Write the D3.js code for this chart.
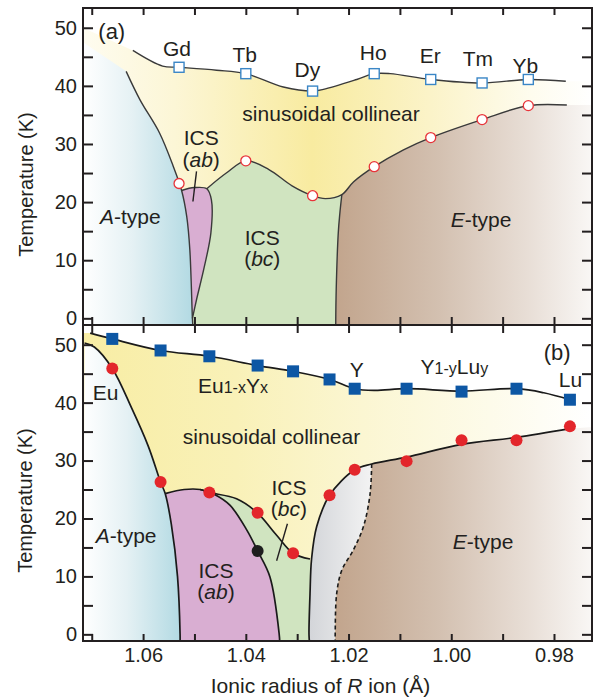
<!DOCTYPE html>
<html>
<head>
<meta charset="utf-8">
<script src="https://cdn.jsdelivr.net/npm/d3@7"></script>
<style>
  body { margin: 0; background: #fff; }
  text { font-family: "Liberation Sans", Arial, Helvetica, sans-serif; fill: #231f20; }
</style>
</head>
<body>
<div id="chart"></div>
<script>
// ---- (a) pure RMnO3, R = Gd ... Yb ----
var ionsA = ["Gd", "Tb", "Dy", "Ho", "Er", "Tm", "Yb"];
var radiusA = [1.053, 1.040, 1.027, 1.015, 1.004, 0.994, 0.985];
var tNeelA = [43.2, 42.1, 39.1, 42.1, 41.1, 40.5, 41.1];
var tLockA = [23.2, 27.1, 21.1, 26.1, 31.1, 34.2, 36.6];

// ---- (b) Eu1-xYx / Y1-yLuy ----
var radiusB = [1.0660, 1.0566, 1.0471, 1.0377, 1.0308, 1.0237, 1.0188, 1.0087, 0.9980, 0.9873, 0.9769];
var tNeelB = [51.0, 49.0, 48.0, 46.4, 45.4, 44.0, 42.4, 42.4, 41.9, 42.4, 40.5];
var tLockB = [45.9, 26.3, 24.5, 21.0, 14.0, 24.0, 28.4, 29.9, 33.5, 33.5, 35.9];
var extraB = [[1.0377, 14.4]];

// ---- phase boundaries, [radius, T] ----
var tnLineA = [[1.0620,46.1],[1.0562,43.4],[1.053,43.2],[1.0457,42.7],[1.040,42.1],[1.0327,39.8],[1.027,39.1],[1.0249,39.4],[1.0184,41.1],[1.015,42.1],[1.0119,42.1],[1.004,41.1],[0.994,40.5],[0.985,41.1],[0.9777,40.8]];
var aLineA = [[1.0633,42.5],[1.0606,37.6],[1.0568,31.9],[1.0541,26.1],[1.0525,22.0],[1.0515,17.5],[1.0509,11.8],[1.0504,0],[1.0503,-1.5]];
var abLineA = [[1.0525,22.0],[1.0500,22.5],[1.0476,22.3],[1.0467,20.4],[1.0468,14.7],[1.0481,8.8],[1.0496,3.2],[1.0504,0]];
var bcTopA = [[1.0476,22.3],[1.0438,25.0],[1.040,27.1],[1.0355,25.6],[1.031,22.8],[1.027,21.1],[1.0245,20.6],[1.0213,21.3]];
var eVertA = [[1.0213,21.3],[1.0217,18],[1.0220,14.7],[1.0224,5],[1.0225,-1.5]];
var eTopA = [[1.0213,21.3],[1.019,23.5],[1.015,26.1],[1.0093,29.0],[1.004,31.1],[0.994,34.2],[0.985,36.6],[0.9775,36.7]];

var tnLineB = [[1.0703,52.0],[1.0660,51.0],[1.0566,49.0],[1.0471,48.0],[1.0377,46.4],[1.0308,45.4],[1.0237,44.0],[1.0188,42.4],[1.0150,42.1],[1.0087,42.4],[0.9980,42.0],[0.9873,42.4],[0.9820,41.7],[0.9769,40.5]];
var aLineB = [[1.0714,50.3],[1.0695,49.6],[1.0660,45.9],[1.0622,39.0],[1.0590,32.5],[1.0566,26.3],[1.0557,24.3],[1.0545,19.0],[1.0533,10],[1.0528,0],[1.0528,-1.5]];
var t1B = [[1.0557,24.3],[1.0520,25.0],[1.0489,25.0],[1.0472,24.5],[1.0418,23.4],[1.0378,21.0],[1.0340,17.1],[1.0308,14.0],[1.0275,13.0]];
var bcLineB = [[1.0489,25.0],[1.0460,24.1],[1.0431,22.3],[1.0398,18.0],[1.0377,14.4],[1.0353,9.9],[1.0335,0],[1.0334,-1.5]];
var grayLeftB = [[1.0276,-1.5],[1.0277,0],[1.0275,7],[1.0272,13.0],[1.0262,18.6],[1.0237,24.0],[1.0188,28.4],[1.0155,29.4]];
var eTopB = [[1.0155,29.4],[1.0087,30.6],[0.9980,32.8],[0.9873,34.0],[0.9769,35.5]];
var dashedB = [[1.0155,29.4],[1.0158,24.3],[1.0171,18.6],[1.0191,14.5],[1.0213,11.1],[1.0223,7.1],[1.0226,0],[1.0226,-1.5]];

var leaderA = [[1.0496,25.3],[1.0503,20.1]];
var leaderB = [[1.0319,19.1],[1.0340,12.7]];

var rTicks = d3.range(98, 108).map(function(d) { return d / 100; });
var tTicks = d3.range(0, 55, 5);

var width = 594,
    height = 698;

var svg = d3.select("#chart")
    .append("svg")
    .attr("width", width)
    .attr("height", height);
var defs = svg.append("defs");

var x = d3.scaleLinear().domain([1.0717, 0.9726]).range([83, 592]);
var yA = d3.scaleLinear().domain([-1.15, 53.4]).range([325, 8]);
var yB = d3.scaleLinear().domain([-1.15, 53.4]).range([641, 325]);
var rL = 1.0717, rR = 0.9726, lo = -1.5;

function gradient(id, r0, r1, stops) {
  var g = defs.append("linearGradient").attr("id", id)
      .attr("gradientUnits", "userSpaceOnUse")
      .attr("x1", x(r0)).attr("x2", x(r1)).attr("y1", 0).attr("y2", 0);
  stops.forEach(function(s) { g.append("stop").attr("offset", s[0]).attr("stop-color", s[1]); });
}
gradient("yelA", rL, rR, [[0,"#fefcf0"],[0.18,"#fcf6d6"],[0.45,"#f8eba0"],[0.68,"#fbf3c8"],[0.88,"#fefcee"],[1,"#ffffff"]]);
gradient("yelB", rL, rR, [[0,"#f8eda4"],[0.3,"#f9f1b8"],[0.55,"#fbf6d2"],[0.8,"#fdfbea"],[1,"#ffffff"]]);
gradient("bluA", rL, 1.0505, [[0,"#ffffff"],[0.45,"#e5f1f4"],[1,"#b3dae3"]]);
gradient("bluB", rL, 1.0528, [[0,"#ffffff"],[0.45,"#e5f1f4"],[1,"#b3dae3"]]);
gradient("bro", 1.0225, rR, [[0,"#c2a58d"],[0.4,"#d3c0b0"],[0.75,"#e8ded6"],[1,"#f9f7f5"]]);
gradient("gry", 1.0277, 1.0155, [[0,"#d3d5d9"],[1,"#f3f3f3"]]);

function curve(y) {
  return d3.line()
      .x(function(d) { return x(d[0]); })
      .y(function(d) { return y(d[1]); })
      .curve(d3.curveCatmullRom.alpha(0.5));
}

// parts: single [r,T] corners or arrays of points drawn as smooth curves
function region(y, parts) {
  var line = curve(y);
  return parts.map(function(p, i) {
    var s = typeof p[0] === "number" ? "M" + x(p[0]) + "," + y(p[1]) : line(p);
    return i ? s.replace(/^M/, "L") : s;
  }).join("") + "Z";
}

function drawPanel(id, y, top, bottom, fills, strokes, dashed, lineColor, lineWidth) {
  defs.append("clipPath").attr("id", "clip" + id)
    .append("rect").attr("x", 83).attr("y", top).attr("width", 509).attr("height", bottom - top);
  var g = svg.append("g").attr("clip-path", "url(#clip" + id + ")");

  g.selectAll(".fill")
    .data(fills)
    .enter().append("path")
      .attr("class", "fill")
      .attr("d", function(d) { return region(y, d.parts); })
      .attr("fill", function(d) { return d.fill; });

  g.selectAll(".bound")
    .data(strokes)
    .enter().append("path")
      .attr("class", "bound")
      .attr("d", curve(y))
      .attr("fill", "none")
      .attr("stroke", lineColor)
      .attr("stroke-width", lineWidth);

  if (dashed) {
    g.append("path")
      .attr("d", curve(y)(dashed))
      .attr("fill", "none")
      .attr("stroke", "#1a1a1a")
      .attr("stroke-width", 1.6)
      .attr("stroke-dasharray", "4,3");
  }
  return g;
}

drawPanel("A", yA, 8, 325, [
  {fill: "url(#yelA)", parts: [[rL, 50.0], tnLineA, [rR, 40.8], [rR, lo], [rL, lo]]},
  {fill: "#d0e4c0", parts: [bcTopA, eVertA, [1.0504, lo], abLineA.slice(2).reverse()]},
  {fill: "url(#bro)", parts: [eTopA, [rR, 36.7], [rR, lo], eVertA.slice().reverse()]},
  {fill: "#d9aed2", parts: [abLineA, [1.0504, lo], [1.057, lo], [1.057, 22.0]]},
  {fill: "url(#bluA)", parts: [[rL, 47.5], aLineA, [rL, lo]]}
], [tnLineA, aLineA, abLineA, bcTopA.concat(eTopA.slice(1)), eVertA], null, "#3a3a3a", 1.4);

drawPanel("B", yB, 325, 641, [
  {fill: "url(#yelB)", parts: [[rL, 52.0], tnLineB, [rR, 40.5], [rR, lo], [rL, lo]]},
  {fill: "#d0e4c0", parts: [t1B, [1.0276, lo], [1.0560, lo]]},
  {fill: "url(#gry)", parts: [grayLeftB, dashedB]},
  {fill: "url(#bro)", parts: [eTopB, [rR, 35.8], [rR, lo], dashedB.slice().reverse()]},
  {fill: "#d9aed2", parts: [t1B.slice(0, 3).concat(bcLineB.slice(1)), [1.0560, lo]]},
  {fill: "url(#bluB)", parts: [aLineB, [rL, lo]]}
], [tnLineB, aLineB, t1B, bcLineB, grayLeftB.concat(eTopB.slice(1))], dashedB, "#1a1a1a", 1.7);

// leader lines
var straight = function(y) {
  return d3.line().x(function(d) { return x(d[0]); }).y(function(d) { return y(d[1]); });
};
svg.append("path").attr("d", straight(yA)(leaderA)).attr("stroke", "#231f20").attr("stroke-width", 1.4).attr("fill", "none");
svg.append("path").attr("d", straight(yB)(leaderB)).attr("stroke", "#231f20").attr("stroke-width", 1.4).attr("fill", "none");

// markers (a): open symbols
svg.selectAll(".sqA")
  .data(radiusA)
  .enter().append("rect")
    .attr("x", function(d) { return x(d) - 5; })
    .attr("y", function(d, i) { return yA(tNeelA[i]) - 5; })
    .attr("width", 10).attr("height", 10)
    .attr("fill", "#fff").attr("stroke", "#3a86c6").attr("stroke-width", 1.4);
svg.selectAll(".ciA")
  .data(radiusA)
  .enter().append("circle")
    .attr("cx", function(d) { return x(d); })
    .attr("cy", function(d, i) { return yA(tLockA[i]); })
    .attr("r", 5)
    .attr("fill", "#fff").attr("stroke", "#e8343a").attr("stroke-width", 1.3);

// markers (b): filled symbols
svg.selectAll(".sqB")
  .data(radiusB)
  .enter().append("rect")
    .attr("x", function(d) { return x(d) - 6; })
    .attr("y", function(d, i) { return yB(tNeelB[i]) - 6; })
    .attr("width", 12).attr("height", 12)
    .attr("fill", "#0d57a4");
svg.selectAll(".ciB")
  .data(radiusB)
  .enter().append("circle")
    .attr("cx", function(d) { return x(d); })
    .attr("cy", function(d, i) { return yB(tLockB[i]); })
    .attr("r", 6)
    .attr("fill", "#e3262b");
svg.selectAll(".blk")
  .data(extraB)
  .enter().append("circle")
    .attr("cx", function(d) { return x(d[0]); })
    .attr("cy", function(d) { return yB(d[1]); })
    .attr("r", 6)
    .attr("fill", "#1e1e1e");

// frames and axes
function axis(gen, tx, ty) {
  var g = svg.append("g")
      .attr("transform", "translate(" + tx + "," + ty + ")")
      .style("color", "#231f20")
      .call(gen)
      .attr("font-size", 20);
  g.select(".domain").remove();
  g.selectAll("line").attr("stroke-width", 2);
  return g;
}
[yA, yB].forEach(function(y) {
  axis(d3.axisLeft(y).tickValues(tTicks).tickSize(-10).tickPadding(6)
    .tickFormat(function(d) { return d % 10 === 0 ? d : ""; }), 83, 0);
  axis(d3.axisRight(y).tickValues(tTicks).tickSize(-10).tickFormat(""), 592, 0);
});
var xLabel = function(d) {
  var k = Math.round(d * 100);
  return (k % 2 === 0 && k <= 106) ? d3.format(".2f")(d) : "";
};
axis(d3.axisTop(x).tickValues(rTicks).tickSize(-7).tickFormat(""), 0, 8);
axis(d3.axisBottom(x).tickValues(rTicks).tickSize(-8).tickFormat(""), 0, 325);
axis(d3.axisTop(x).tickValues(rTicks).tickSize(-8).tickFormat(""), 0, 325);
axis(d3.axisBottom(x).tickValues(rTicks).tickSize(-7).tickPadding(6.5).tickFormat(xLabel), 0, 641);

svg.append("rect").attr("x", 83).attr("y", 8).attr("width", 509).attr("height", 633)
  .attr("fill", "none").attr("stroke", "#231f20").attr("stroke-width", 2);
svg.append("line").attr("x1", 83).attr("x2", 592).attr("y1", 325).attr("y2", 325)
  .attr("stroke", "#231f20").attr("stroke-width", 2);

// axis titles
svg.append("text").attr("transform", "translate(32.5,184.5) rotate(-90)")
  .attr("text-anchor", "middle").attr("font-size", 20).text("Temperature (K)");
svg.append("text").attr("transform", "translate(32,500.5) rotate(-90)")
  .attr("text-anchor", "middle").attr("font-size", 20).text("Temperature (K)");
var xt = svg.append("text").attr("x", 320.5).attr("y", 692.7)
  .attr("text-anchor", "middle").attr("font-size", 21);
xt.append("tspan").text("Ionic radius of ");
xt.append("tspan").attr("font-style", "italic").text("R");
xt.append("tspan").text(" ion (Å)");

// labels: panel, segments ([text, style]), radius, T, anchor, size
var labels = [
  ["a", [["(a)"]], 1.0661, 48.0, "middle", 22],
  ["a", [["sinusoidal collinear"]], 1.0234, 34.0, "middle", 21],
  ["a", [["ICS"]], 1.0487, 29.8, "middle", 21],
  ["a", [["("], ["ab", "i"], [")"]], 1.0487, 26.1, "middle", 21],
  ["a", [["A", "i"], ["-type"]], 1.0684, 16.3, "start", 21],
  ["a", [["ICS"]], 1.0368, 12.6, "middle", 21],
  ["a", [["("], ["bc", "i"], [")"]], 1.0368, 9.0, "middle", 21],
  ["a", [["E", "i"], ["-type"]], 0.9942, 15.8, "middle", 21],
  ["b", [["(b)"]], 0.9794, 47.3, "middle", 22],
  ["b", [["Eu"]], 1.0673, 40.5, "middle", 21],
  ["b", [["Eu"], ["1-x", "s"], ["Y"], ["x", "s"]], 1.0425, 41.7, "middle", 21],
  ["b", [["Y"]], 1.0184, 44.4, "middle", 21],
  ["b", [["Y"], ["1-y", "s"], ["Lu"], ["y", "s"]], 0.9994, 45.0, "middle", 21],
  ["b", [["Lu"]], 0.9768, 42.7, "middle", 21],
  ["b", [["sinusoidal collinear"]], 1.0350, 32.9, "middle", 21],
  ["b", [["ICS"]], 1.0316, 24.0, "middle", 21],
  ["b", [["("], ["bc", "i"], [")"]], 1.0316, 20.4, "middle", 21],
  ["b", [["A", "i"], ["-type"]], 1.0692, 15.8, "start", 21],
  ["b", [["ICS"]], 1.0458, 9.7, "middle", 21],
  ["b", [["("], ["ab", "i"], [")"]], 1.0458, 6.1, "middle", 21],
  ["b", [["E", "i"], ["-type"]], 0.9938, 14.8, "middle", 21]
];
var namePos = [[1.0534,45.1],[1.0402,44.1],[1.0280,41.6],[1.0152,44.5],[1.0041,44.0],[0.9948,43.4],[0.9856,42.3]];
ionsA.forEach(function(n, i) { labels.push(["a", [[n]], namePos[i][0], namePos[i][1], "middle", 21]); });

var lab = svg.selectAll(".lab")
  .data(labels)
  .enter().append("text")
    .attr("class", "lab")
    .attr("x", function(d) { return x(d[2]); })
    .attr("y", function(d) { return (d[0] === "a" ? yA : yB)(d[3]); })
    .attr("text-anchor", function(d) { return d[4]; })
    .attr("font-size", function(d) { return d[5]; });
lab.selectAll("tspan")
  .data(function(d) { return d[1]; })
  .enter().append("tspan")
    .attr("font-style", function(s) { return s[1] === "i" ? "italic" : null; })
    .attr("font-size", function(s) { return s[1] === "s" ? 16 : null; })
    .text(function(s) { return s[0]; });
</script>
</body>
</html>
